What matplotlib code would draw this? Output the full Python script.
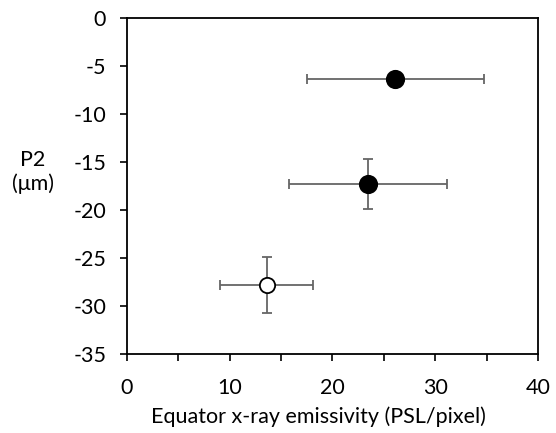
import matplotlib
matplotlib.use("Agg")
import matplotlib.pyplot as plt
from matplotlib.ticker import MultipleLocator

plt.rcParams['font.family'] = ['Lato', 'DejaVu Sans']
plt.rcParams['axes.unicode_minus'] = False

# data
emissivity = [26.05, 23.45, 13.6]
emis_lo = [17.5, 15.74, 9.09]
emis_hi = [34.7, 31.18, 18.1]
p2 = [-6.36, -17.24, -27.84]
p2_lo = [-6.8, -19.85, -30.73]
p2_hi = [-5.9, -14.67, -24.92]
filled = [True, True, False]

fig = plt.figure(figsize=(5.56, 4.33), dpi=100)
ax = fig.add_axes([0.2284, 0.1824, 0.7392, 0.7753])

for x, xl, xh, y, yl, yh, f in zip(emissivity, emis_lo, emis_hi, p2, p2_lo, p2_hi, filled):
    ax.errorbar(x, y, xerr=[[x - xl], [xh - x]], yerr=[[y - yl], [yh - y]],
                fmt='none', ecolor='#666666', elinewidth=1.3, capsize=3.5, capthick=1.3, zorder=2)
    ax.plot(x, y, 'o', ms=12.5 if f else 11, mfc='black' if f else 'white',
            mec='black', mew=1.3, zorder=3)

ax.set_xlim(0, 40)
ax.set_ylim(-35, 0)
ax.xaxis.set_major_locator(MultipleLocator(10))
ax.xaxis.set_minor_locator(MultipleLocator(5))
ax.yaxis.set_major_locator(MultipleLocator(5))
ax.tick_params(which='both', direction='out', width=1.2, length=5, labelsize=15.5,
               colors='black')
ax.tick_params(axis='x', pad=12)
ax.tick_params(axis='y', pad=10)
for s in ax.spines.values():
    s.set_linewidth(1.3)

ax.set_xlabel('Equator x-ray emissivity (PSL/pixel)', fontsize=15.5)
ax.xaxis.set_label_coords(0.465, -0.155)
fig.text(33 / 556, 1 - 172 / 433, 'P2\n(μm)', ha='center', va='center', fontsize=15.5,
         linespacing=1.15)

fig.savefig('out.png', dpi=100)
